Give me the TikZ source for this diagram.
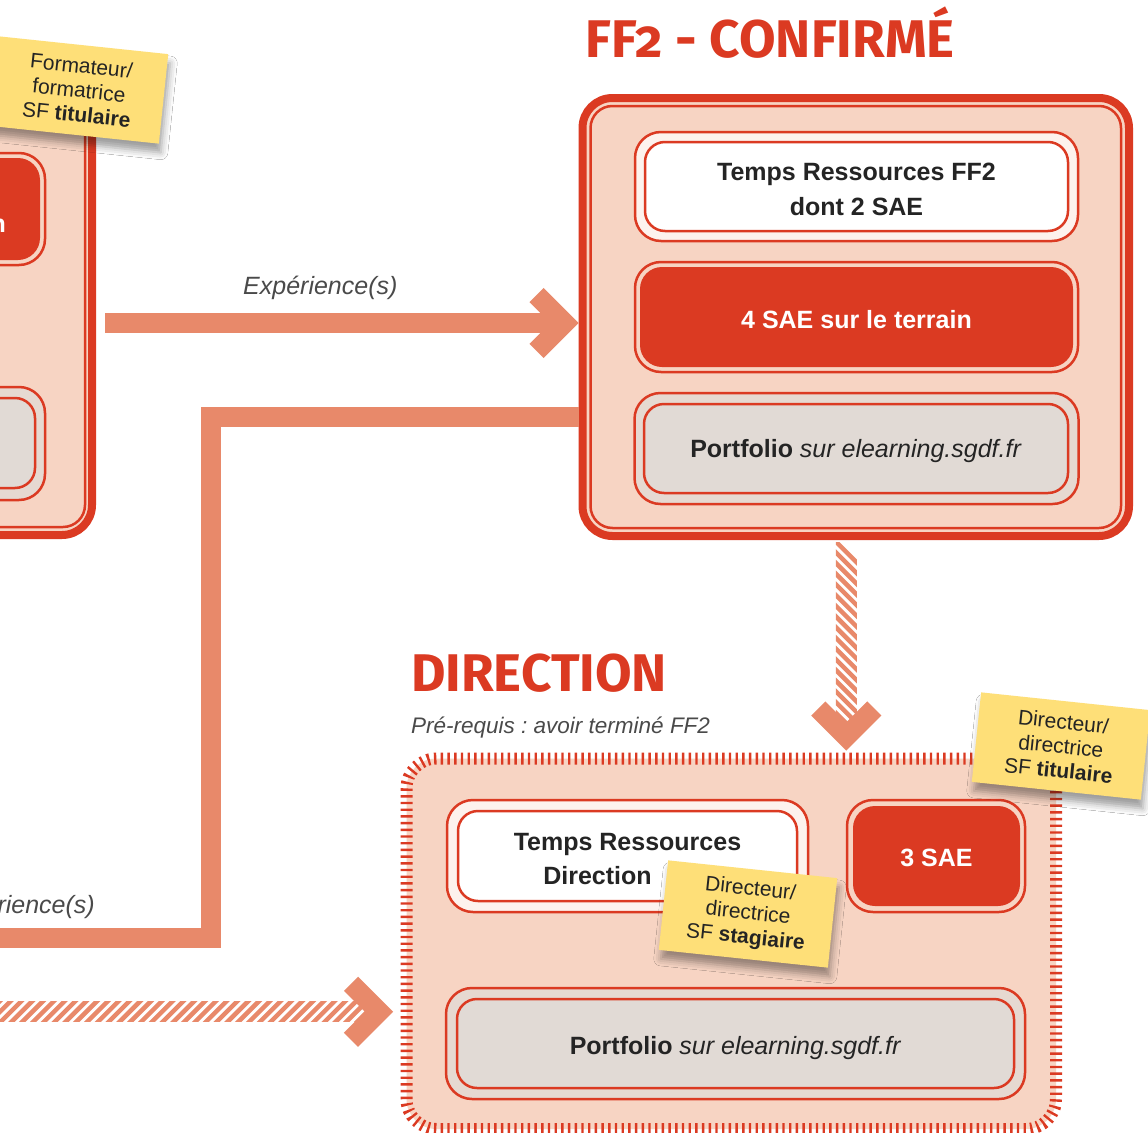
\documentclass[tikz,border=0pt]{standalone}
\usepackage{fontspec}
\setmainfont{Liberation Sans}
\newfontfamily\titlefont[Numbers=OldStyle]{Fira Sans}
\usetikzlibrary{calc,shadows.blur}
\definecolor{redc}{HTML}{DB3A22}
\definecolor{pinkc}{HTML}{F7D4C3}
\definecolor{salmonc}{HTML}{E8896A}
\definecolor{greyc}{HTML}{E1DAD5}
\definecolor{yellowc}{HTML}{FEDF78}
\definecolor{darkc}{HTML}{242424}
\definecolor{lblc}{HTML}{4A4A4A}
\newcommand\fntbox{\fontsize{25}{35}\selectfont}
\newcommand\fntsticky{\fontsize{21}{24.5}\selectfont}
\newcommand\fntlbl{\fontsize{25}{30}\selectfont\itshape}
\newcommand\dn[1]{\rule{0pt}{#1pt}}
\frenchspacing
\tikzset{
  frame/.style={draw=redc, line width=8pt, fill=pinkc, rounded corners=30pt, inner sep=0pt},
  thinline/.style={draw=redc, line width=2.5pt},
  ring/.style={draw=redc, line width=2.5pt, rounded corners=26pt, inner sep=0pt},
  whitein/.style={draw=redc, line width=2.5pt, fill=white, rounded corners=20pt, inner sep=0pt,
                  font=\fntbox\bfseries, text=darkc, align=center},
  redin/.style={fill=redc, rounded corners=22pt, inner sep=0pt, font=\fntbox\bfseries, text=white, align=center},
  greyin/.style={draw=redc, line width=2.5pt, fill=greyc, rounded corners=20pt, inner sep=0pt,
                 font=\fntbox, text=darkc, align=center},
  dirframe/.style={fill=pinkc, draw=redc, line width=12pt, dash pattern=on 2.4pt off 4.3pt,
                   rounded corners=30pt, inner sep=0pt},
  sticky/.style={fill=yellowc, rotate=-6, minimum width=170pt, minimum height=90pt, inner sep=0pt,
                 align=center, font=\fntsticky, text=darkc,
                 blur shadow={shadow xshift=2pt, shadow yshift=-9pt, shadow blur radius=7pt, shadow opacity=38}},
  bar/.style={draw=salmonc, line width=20pt},
  chev/.style={draw=salmonc, line width=20pt, line join=miter},
  hatch/.style={draw=salmonc, line width=4.5pt},
  lbl/.style={font=\fntlbl, text=lblc, inner sep=0pt},
  ttl/.style={font=\titlefont\bfseries\fontsize{53}{60}\selectfont, text=redc, inner sep=0pt}
}
\begin{document}
\begin{tikzpicture}[x=1pt,y=-1pt]
\useasboundingbox[fill=white] (0,0) rectangle (1148,1132);

% ---------- left (partial) box ----------
\node[frame, minimum width=552pt, minimum height=437pt] (lbox) at (-184,316.5) {};
\draw[thinline, rounded corners=22pt] ([shift={(12,12)}]lbox.north west) rectangle ([shift={(-11,-12)}]lbox.south east);
\node[ring, minimum width=445pt, minimum height=112pt] (lAr) at (-177.5,209) {};
\node[redin, minimum width=440pt, minimum height=102pt] (lA) at (-180,209) {};
\node[anchor=base east, inner sep=0pt, text=white, font=\fntbox\bfseries] (ln) at (6,232) {n};
\node[ring, fill=greyc!75!pinkc, minimum width=445pt, minimum height=113pt] (lBr) at (-177.5,443.5) {};
\node[greyin, minimum width=435pt, minimum height=90pt] (lB) at (-182.5,443) {};

% ---------- FF2 box ----------
\node[ttl, anchor=base west] (t1) at (585,57) {FF2 - CONFIRMÉ};
\node[frame, minimum width=546.5pt, minimum height=438pt] (ff2) at (855.75,317) {};
\draw[thinline, rounded corners=22pt] ([shift={(12,12)}]ff2.north west) rectangle ([shift={(-12,-12)}]ff2.south east);
\node[ring, fill=white!70!pinkc, minimum width=443pt, minimum height=109pt] (ffAr) at (856.5,186.5) {};
\node[whitein, minimum width=423pt, minimum height=89pt] (ffA) at (856.5,186.5) {\dn{22.5}Temps Ressources FF2\\dont 2 SAE};
\node[ring, minimum width=443pt, minimum height=110pt] (ffBr) at (856.5,317) {};
\node[redin, minimum width=433pt, minimum height=100pt] (ffB) at (856.5,317) {\dn{23}4 SAE sur le terrain};
\node[ring, fill=greyc!75!pinkc, minimum width=444pt, minimum height=111pt] (ffCr) at (856.5,448.5) {};
\node[greyin, minimum width=424pt, minimum height=89pt] (ffC) at (856,448.5) {\dn{24}\textbf{Portfolio} \textit{sur elearning.sgdf.fr}};

% ---------- DIRECTION box ----------
\node[ttl, anchor=base west] (t2) at (411,691) {DIRECTION};
\node[lbl, anchor=base west, font=\fontsize{22.5}{27}\selectfont\itshape] (pre) at (411,733) {Pré-requis : avoir terminé FF2};
\node[dirframe, minimum width=649.5pt, minimum height=370.5pt] (dir) at (731.25,943.75) {};
\node[ring, fill=white!70!pinkc, minimum width=361pt, minimum height=112pt] (dAr) at (627.5,856) {};
\node[whitein, minimum width=339pt, minimum height=90pt, font=\fontsize{25}{34}\selectfont\bfseries] (dA) at (627.5,856) {\dn{22.5}Temps Ressources\\\hspace*{-60pt}Direction};
\node[ring, minimum width=178pt, minimum height=112pt] (dBr) at (936,856) {};
\node[redin, minimum width=167pt, minimum height=100pt] (dB) at (936.5,856) {\dn{21}3 SAE};
\node[ring, fill=greyc!75!pinkc, minimum width=579pt, minimum height=111pt] (dCr) at (735.5,1043.5) {};
\node[greyin, minimum width=557pt, minimum height=89pt] (dC) at (735.5,1043.5) {\dn{26.5}\textbf{Portfolio} \textit{sur elearning.sgdf.fr}};

% ---------- arrow 1: Expérience(s) ----------
\coordinate (a1s) at ([shift={(9,6.5)}]lbox.east);
\coordinate (a1e) at ([shift={(0,6)}]ff2.west);
\draw[bar] (a1s) -- ([xshift=-14]a1e);
\draw[chev] ([shift={(-42,-28)}]a1e) -- ([xshift=-14]a1e) -- ([shift={(-42,28)}]a1e);
\node[lbl, anchor=base west] (l1) at (243,294) {Expérience(s)};

% ---------- zigzag connector ----------
\coordinate (z1) at ([shift={(0,100)}]ff2.west);
\coordinate (z2) at (211,938);
\coordinate (z3) at (-20,938);
\draw[bar, line join=miter] (z1) -| (z2) -- (z3);
\node[lbl, anchor=base east] (l2) at (95,913) {Expérience(s)};

% ---------- hatched arrow down ----------
\coordinate (h1s) at ([xshift=-9.5]ff2.south);
\coordinate (h1e) at (h1s |- dir.north);
\coordinate (h1t) at ([shift={(0,-2)}]h1e);
\begin{scope}
  \clip ([shift={(-10.5,2)}]h1s) rectangle ([shift={(10.5,-28)}]h1t);
  \foreach \k in {0,...,18} \draw[hatch] ([shift={(-20,{-8+10.7*\k})}]h1s) -- ++(40,40);
\end{scope}
\draw[chev] ([shift={(-28,-42)}]h1t) -- ([shift={(0,-14)}]h1t) -- ([shift={(28,-42)}]h1t);

% ---------- hatched arrow right ----------
\coordinate (h2t) at ([shift={(-7.5,68)}]dir.west);
\coordinate (h2s) at (-10,1011.75);
\begin{scope}
  \clip ([shift={(0,-10)}]h2s) rectangle ([shift={(-28,10)}]h2t);
  \foreach \k in {-1,...,35} \draw[hatch] ([shift={({10.8*\k-15},25)}]h2s) -- ++(40,-40);
\end{scope}
\draw[chev] ([shift={(-42,-28)}]h2t) -- ([xshift=-14]h2t) -- ([shift={(-42,28)}]h2t);

% ---------- sticky notes ----------
\node[sticky] (s1) at (79,90) {Formateur/\\formatrice\\SF \textbf{titulaire}};
\node[sticky] (s2) at (748,914) {Directeur/\\directrice\\SF \textbf{stagiaire}};
\node[sticky] (s3) at (1061,746) {Directeur/\\directrice\\SF \textbf{titulaire}};
\end{tikzpicture}
\end{document}
